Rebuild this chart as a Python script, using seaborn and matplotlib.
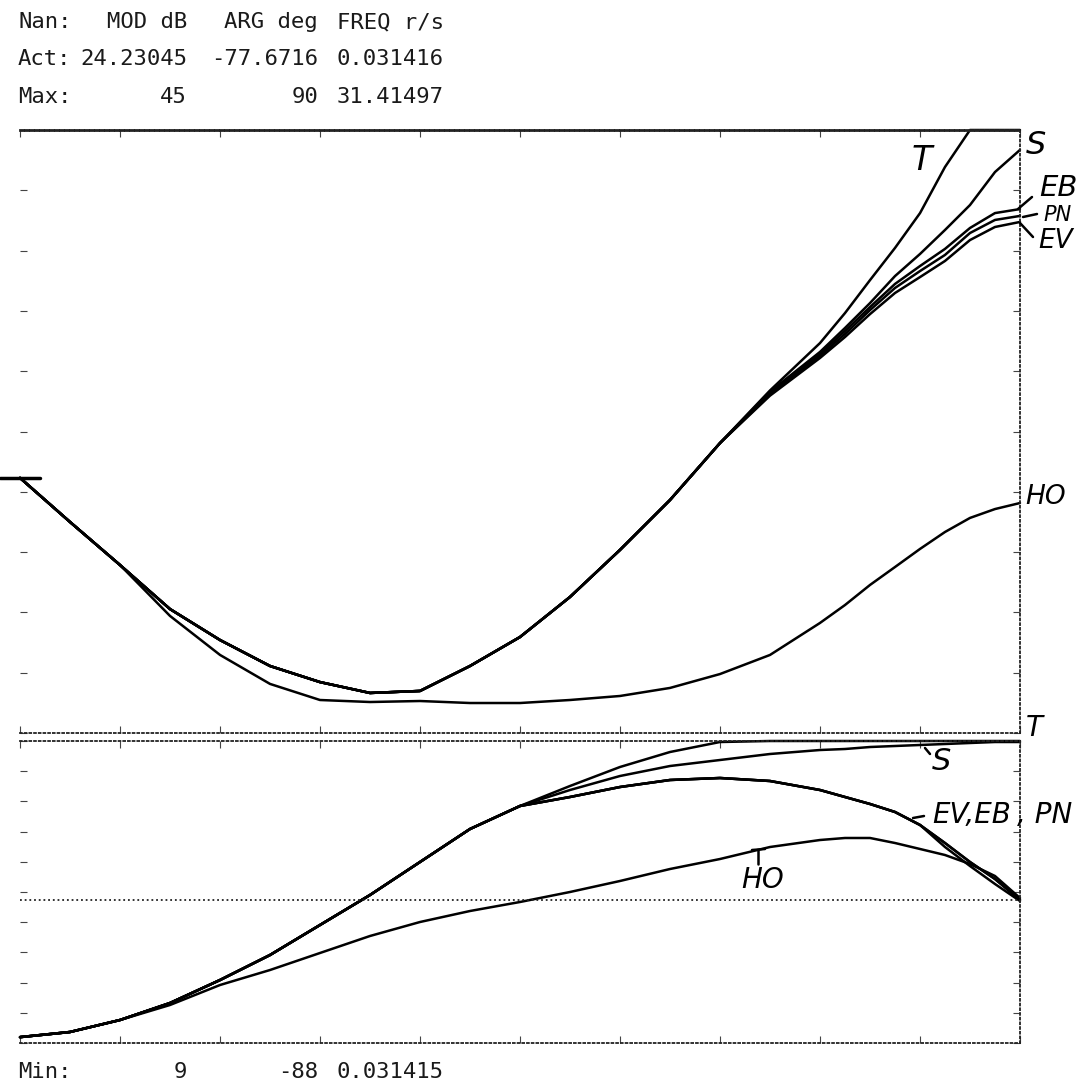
import numpy as np
import pandas as pd
import matplotlib
matplotlib.use("Agg")
import matplotlib.pyplot as plt
from matplotlib.lines import Line2D
from matplotlib.ticker import NullLocator
import seaborn as sns

# ---------------- data ----------------
freq = [0.03142, 0.04437, 0.06268, 0.08854, 0.1251, 0.1767, 0.2495, 0.3525,
        0.4979, 0.7033, 0.9935, 1.403, 1.982, 2.800, 3.955, 5.587, 7.891,
        9.378, 11.15, 13.25, 15.75, 18.71, 22.24, 26.43, 31.41]

# magnitude (dB): curves T, S, EB, PN, EV coincide up to ~4 r/s
mag_common = [24.23, 21.60, 19.03, 16.40, 14.55, 13.00, 12.04, 11.39, 11.51,
              13.00, 14.73, 17.12, 19.93, 22.91, 26.31]
mag_T_tail = [29.45, 32.28, 34.07, 36.04, 37.96, 40.04, 42.79, 45.0, 45.0, 45.0]
mag_S_tail = [29.38, 31.75, 33.18, 34.67, 36.28, 37.60, 39.03, 40.52, 42.49, 43.81]
mag_EB_tail = [29.30, 31.63, 33.00, 34.43, 35.81, 36.88, 37.90, 39.15, 40.04, 40.28]
mag_PN_tail = [29.22, 31.51, 32.82, 34.25, 35.57, 36.58, 37.54, 38.85, 39.63, 39.87]
mag_EV_tail = [29.14, 31.39, 32.64, 34.01, 35.27, 36.22, 37.18, 38.43, 39.21, 39.51]
mag_HO = [24.23, 21.60, 19.03, 15.99, 13.66, 11.93, 10.97, 10.85, 10.91, 10.79,
          10.79, 10.97, 11.21, 11.69, 12.52, 13.66, 15.57, 16.64, 17.84, 18.91,
          19.99, 21.00, 21.84, 22.37, 22.73]

# phase (deg)
ph_common = [-77.67, -74.77, -67.98, -58.35, -45.33, -31.17, -14.19, 2.80,
             21.49, 40.17, 53.20]
ph_T_tail = [64.52, 75.28, 83.77, 89.43, 90, 90, 90, 90, 90, 90, 90, 90, 90, 90]
ph_S_tail = [62.25, 70.18, 75.84, 79.24, 82.64, 84.90, 85.47, 86.60, 87.17,
             87.74, 88.30, 88.87, 89.43, 89.43]
ph_EV_tail = [58.29, 63.95, 67.92, 69.05, 67.35, 62.25, 58.29, 54.33, 49.80,
              42.44, 32.24, 21.49, 11.86, 0.0]
ph_EB_tail = [58.29, 63.95, 67.92, 69.05, 67.35, 62.25, 58.29, 54.33, 49.80,
              42.44, 32.24, 21.49, 11.86, 0.0]
ph_PN_tail = [58.29, 63.95, 67.92, 69.05, 67.35, 62.25, 58.29, 54.33, 49.80,
              42.44, 29.98, 19.22, 9.03, -0.6]
ph_HO = [-77.67, -74.77, -67.98, -59.48, -48.16, -39.67, -30.04, -20.41, -12.49,
         -6.26, -1.16, 4.50, 10.73, 17.52, 23.18, 29.98, 33.94, 35.08, 35.08,
         32.24, 28.85, 25.45, 20.35, 13.56, 1.10]

header_cols = ["MOD dB", "ARG deg", "FREQ r/s"]
act_vals = ["24.23045", "-77.6716", "0.031416"]
max_vals = ["45", "90", "31.41497"]
min_vals = ["9", "-88", "0.031415"]
mag_lim = (9, 45)
ph_lim = (-81, 90)
f_lim = (0.031416, 31.416)

# ---------------- tables ----------------
mag_curves = {
    "T": mag_common + mag_T_tail, "S": mag_common + mag_S_tail,
    "EB": mag_common + mag_EB_tail, "PN": mag_common + mag_PN_tail,
    "EV": mag_common + mag_EV_tail, "HO": mag_HO,
}
ph_curves = {
    "T": ph_common + ph_T_tail, "S": ph_common + ph_S_tail,
    "EB": ph_common + ph_EB_tail, "PN": ph_common + ph_PN_tail,
    "EV": ph_common + ph_EV_tail, "HO": ph_HO,
}


def to_long(curves):
    rows = []
    for name, vals in curves.items():
        for f, v in zip(freq, vals):
            rows.append((name, f, v))
    return pd.DataFrame(rows, columns=["curve", "freq", "value"])


df_mag = to_long(mag_curves)
df_ph = to_long(ph_curves)

# ---------------- figure ----------------
sns.set_theme(style="white")
plt.rcParams["font.family"] = ["DejaVu Sans"]

W, H = 1081, 1091
fig = plt.figure(figsize=(W / 100, H / 100), dpi=100)
fig.patch.set_facecolor("white")


def fx(p):
    return p / W


def fy(p):
    return 1 - p / H


ax_m = fig.add_axes([fx(20), fy(733), 1000 / W, 603 / H])
ax_p = fig.add_axes([fx(20), fy(1043), 1000 / W, 302 / H])

dotted = (0, (1, 1.6))
for ax, df, lim in ((ax_m, df_mag, mag_lim), (ax_p, df_ph, ph_lim)):
    ax.set_xscale("log")
    sns.lineplot(data=df, x="freq", y="value", units="curve", estimator=None,
                 color="black", lw=1.8, ax=ax, legend=False, sort=False)
    for ln in ax.lines:
        ln.set_clip_on(False)
    ax.set_xlim(*f_lim)
    ax.set_ylim(*lim)
    ax.set_xlabel("")
    ax.set_ylabel("")
    ax.set_facecolor("white")
    ax.spines["left"].set_visible(False)
    for s in ("top", "bottom", "right"):
        ax.spines[s].set_linestyle(dotted)
        ax.spines[s].set_linewidth(1.3)
        ax.spines[s].set_color("#222222")
    ax.set_xticks(f_lim[0] * 10 ** (0.3 * np.arange(11)))
    ax.xaxis.set_minor_locator(NullLocator())
    ax.set_yticks(np.linspace(lim[0], lim[1], 11))
    ax.tick_params(axis="x", which="both", direction="in", length=5, width=0.8,
                   color="#444444", top=True, bottom=True,
                   labelbottom=False, labeltop=False)
    ax.tick_params(axis="y", which="both", direction="in", length=5, width=0.8,
                   color="#444444", left=True, right=True,
                   labelleft=False, labelright=False)
    ax.grid(False)

ax_m.spines["top"].set_linewidth(2.0)
ax_m.spines["top"].set_linestyle((0, (1, 0.8)))
ax_p.axhline(0, color="#222222", lw=1.3, ls=dotted)

# cursor mark at the left of the magnitude panel
fig.add_artist(Line2D([fx(0), fx(40)], [fy(478), fy(478)],
                      transform=fig.transFigure, color="black", lw=2.5))

# ---------------- header / footer text ----------------
mono = dict(family="DejaVu Sans Mono", fontsize=16, color="#1a1a1a", va="center")
rows_txt = [("Nan:", header_cols, 22), ("Act:", act_vals, 59),
            ("Max:", max_vals, 97), ("Min:", min_vals, 1072)]
col_right = [187, 318, 444]
for lab, vals, yy in rows_txt:
    fig.text(fx(18), fy(yy), lab, ha="left", **mono)
    for v, xr in zip(vals, col_right):
        fig.text(fx(xr), fy(yy), v, ha="right", **mono)

# ---------------- handwritten curve labels ----------------
hand = dict(fontstyle="italic", color="black", ha="center", va="center")
fig.text(fx(922), fy(160), "T", fontsize=24, **hand)
fig.text(fx(1036), fy(145), "S", fontsize=23, **hand)
fig.text(fx(1058), fy(188), "EB", fontsize=21, **hand)
fig.text(fx(1058), fy(215), "PN", fontsize=15, **hand)
fig.text(fx(1056), fy(241), "EV", fontsize=19, **hand)
fig.text(fx(1046), fy(497), "HO", fontsize=19, **hand)
fig.text(fx(1034), fy(728), "T", fontsize=20, **hand)
fig.text(fx(941), fy(762), "S", fontsize=22, **hand)
fig.text(fx(932), fy(815), "EV,EB", fontsize=20, fontstyle="italic",
         color="black", ha="left", va="center")
fig.text(fx(1017), fy(815), ", PN", fontsize=20, fontstyle="italic",
         color="black", ha="left", va="center")
fig.text(fx(763), fy(880), "HO", fontsize=20, **hand)

leaders = [((1018, 209), (1032, 197)), ((1023, 217), (1037, 214)),
           ((1020, 223), (1033, 237)), ((925, 748), (930, 754)),
           ((913, 818), (924, 816)), ((758, 850), (758, 864)),
           ((752, 850), (765, 849))]
for (x0, y0), (x1, y1) in leaders:
    fig.add_artist(Line2D([fx(x0), fx(x1)], [fy(y0), fy(y1)],
                          transform=fig.transFigure, color="black", lw=1.8))

fig.savefig("out.png", dpi=100, facecolor="white")
